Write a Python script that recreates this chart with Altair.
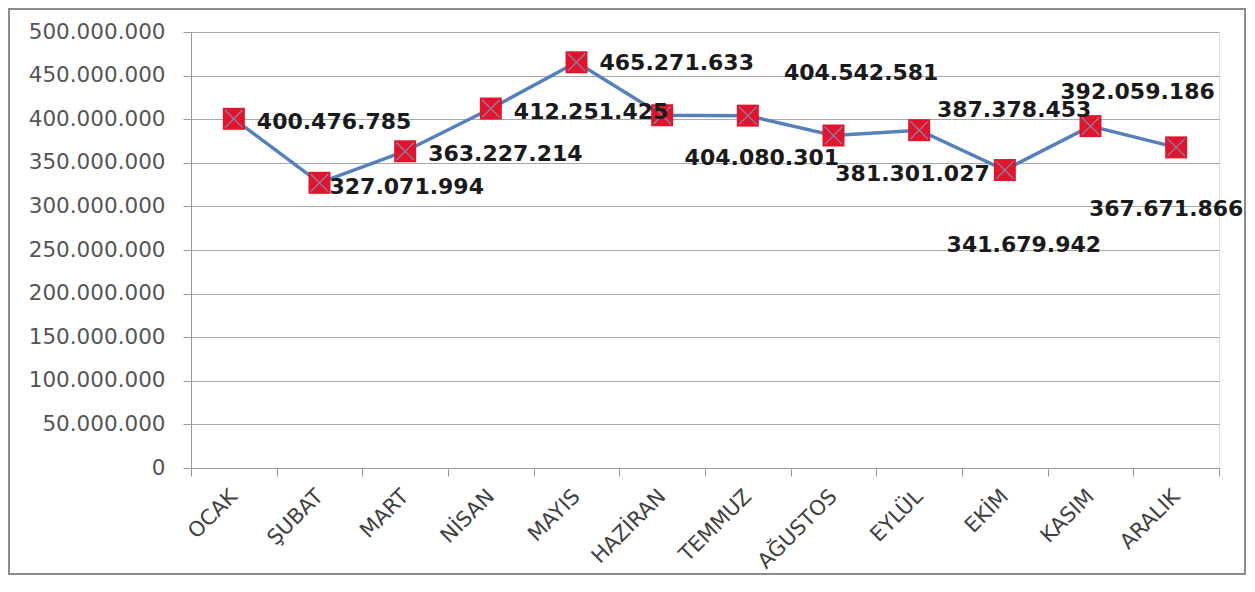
import altair as alt
import pandas as pd

months = ["OCAK", "ŞUBAT", "MART", "NİSAN", "MAYIS", "HAZİRAN",
          "TEMMUZ", "AĞUSTOS", "EYLÜL", "EKİM", "KASIM", "ARALIK"]
values = [400476785, 327071994, 363227214, 412251425, 465271633, 404542581,
          404080301, 381301027, 387378453, 341679942, 392059186, 367671866]
y_ticks = [0, 50000000, 100000000, 150000000, 200000000, 250000000,
           300000000, 350000000, 400000000, 450000000, 500000000]

df = pd.DataFrame({"month": months, "value": values})

W, H = 1028, 436
FONT = "DejaVu Sans"
DOTS = "replace(format(datum.value, ','), regexp(',', 'g'), '.')"

x_enc = alt.X("month:N", sort=months,
              scale=alt.Scale(paddingInner=0, paddingOuter=0),
              axis=alt.Axis(title=None, labelAngle=-45, labelAlign="right",
                            labelBaseline="middle", tickBand="extent",
                            labelPadding=17,
                            tickSize=8, tickColor="#9a9a9a", domainColor="#9a9a9a",
                            labelFont=FONT, labelFontSize=21, labelColor="#404040",
                            grid=False))
y_enc = alt.Y("value:Q", scale=alt.Scale(domain=[0, 500000000], nice=False),
              axis=alt.Axis(title=None, values=y_ticks, labelExpr=DOTS,
                            tickSize=8, tickColor="#9a9a9a", domainColor="#9a9a9a",
                            gridColor="#a8a8a8", gridWidth=1,
                            labelFont=FONT, labelFontSize=21.5, labelColor="#555555",
                            labelPadding=18))

base = alt.Chart(df).encode(x=x_enc, y=y_enc)

line = base.mark_line(color="#5580BA", strokeWidth=3.5)
squares = base.mark_point(shape="square", filled=True, size=484,
                          color="#E0142C", opacity=1)
crosses = base.mark_point(shape="M-0.8,-0.8L0.8,0.8M0.8,-0.8L-0.8,0.8",
                          filled=False, size=484, color="#8a86a6",
                          strokeWidth=1.2, opacity=1)

# label offsets (pixels from point) for each month
label_style = {
    "OCAK": (23, 3, "left"),
    "ŞUBAT": (10, 4, "left"),
    "MART": (23, 3, "left"),
    "NİSAN": (23, 3, "left"),
    "MAYIS": (23, 1, "left"),
    "HAZİRAN": (199, -42, "center"),
    "TEMMUZ": (14, 42, "center"),
    "AĞUSTOS": (79, 38, "center"),
    "EYLÜL": (95, -20, "center"),
    "EKİM": (19, 75, "center"),
    "KASIM": (47, -34, "center"),
    "ARALIK": (-10, 62, "center"),
}

labels = []
for m, (dx, dy, al) in label_style.items():
    labels.append(
        base.transform_filter(alt.datum.month == m)
        .transform_calculate(lbl=DOTS)
        .mark_text(dx=dx, dy=dy, align=al, baseline="middle", font=FONT,
                   fontSize=22, fontWeight="bold", color="#1a1a1a")
        .encode(text="lbl:N")
    )

frame = alt.Chart(pd.DataFrame({"a": [0]})).mark_rect(
    filled=False, stroke="#8c8c8c", strokeWidth=2
).encode(x=alt.value(-182), x2=alt.value(W + 26), y=alt.value(-23), y2=alt.value(H + 106))

chart = alt.layer(frame, line, squares, crosses, *labels).properties(
    width=W, height=H,
    autosize=alt.AutoSizeParams(type="none"),
    padding={"left": 183, "top": 24, "right": 28, "bottom": 108},
).configure_view(stroke=None).configure(background="white")

chart.save("out.html", embed_options={"renderer": "svg", "actions": False})
